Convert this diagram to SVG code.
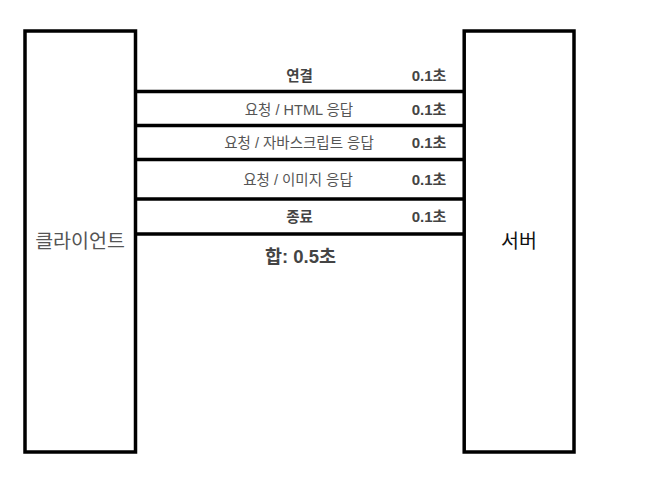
<svg xmlns="http://www.w3.org/2000/svg" width="654" height="492" viewBox="0 0 654 492">
<style>
text{font-family:"Liberation Sans","Noto Sans CJK KR",sans-serif;}
.box{fill:#fff;stroke:#000;stroke-width:3.5;}
.line{stroke:#000;stroke-width:3.5;}
.lbl{font-size:14.5px;fill:#555;text-anchor:middle;}
.b{font-weight:bold;fill:#444;}
.t{font-size:15px;font-weight:bold;fill:#444;text-anchor:middle;}
.name{font-size:19.5px;text-anchor:middle;}
</style>
<rect width="654" height="492" fill="#fff"/>
<g id="client">
<rect class="box" x="25" y="31" width="110.5" height="421"/>
<text class="name" x="80" y="248" fill="#555">클라이언트</text>
</g>
<g id="server">
<rect class="box" x="464.2" y="31" width="109.8" height="421"/>
<text class="name" x="519" y="248" fill="#111">서버</text>
</g>
<g id="connectors">
<line class="line" x1="137" y1="91.5" x2="463" y2="91.5"/>
<line class="line" x1="137" y1="125.5" x2="463" y2="125.5"/>
<line class="line" x1="137" y1="159.5" x2="463" y2="159.5"/>
<line class="line" x1="137" y1="199" x2="463" y2="199"/>
<line class="line" x1="137" y1="234" x2="463" y2="234"/>
</g>
<g id="labels">
<text class="lbl b" x="299.5" y="81">연결</text>
<text class="t" x="429" y="81">0.1초</text>
<text class="lbl" x="299" y="114.5">요청 / HTML 응답</text>
<text class="t" x="429" y="114.5">0.1초</text>
<text class="lbl" x="299" y="148">요청 / 자바스크립트 응답</text>
<text class="t" x="429" y="148">0.1초</text>
<text class="lbl" x="298" y="184.5">요청 / 이미지 응답</text>
<text class="t" x="429" y="184.5">0.1초</text>
<text class="lbl b" x="299.5" y="221.5">종료</text>
<text class="t" x="429" y="221.5">0.1초</text>
<text x="300.5" y="262.5" font-size="18.5" font-weight="bold" fill="#444" text-anchor="middle">합: 0.5초</text>
</g>
</svg>
